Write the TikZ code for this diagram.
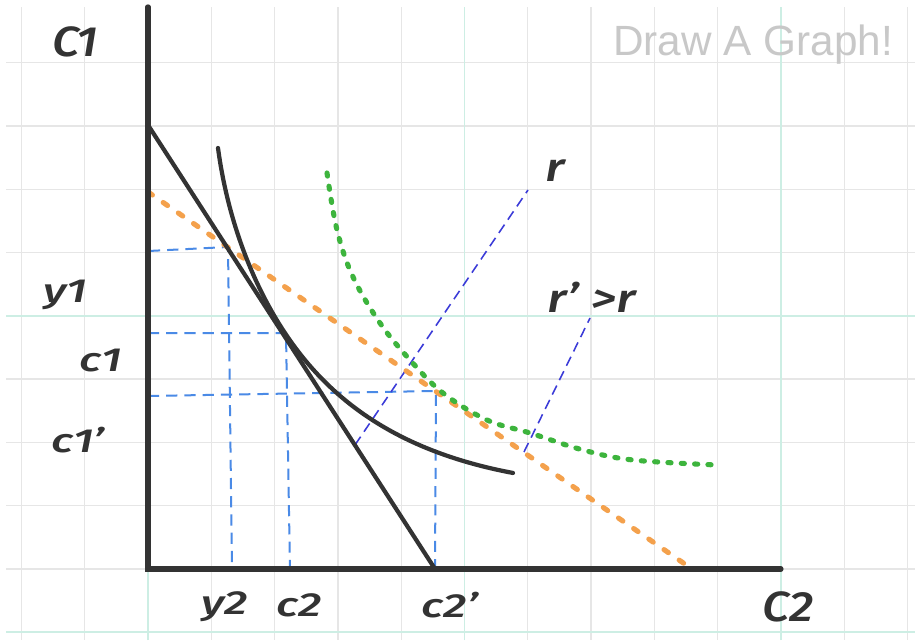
\documentclass[tikz,border=0pt]{standalone}
\usepackage{fontspec}
\setmainfont{Fira Sans}
\newfontfamily\handfont{Fira Sans}[UprightFont={* Medium}, ItalicFont={* Medium Italic}]
\newfontfamily\logofont{Liberation Sans}
\definecolor{inkgray}{HTML}{333333}
\definecolor{gridgray}{HTML}{E6E6E6}
\definecolor{gridteal}{HTML}{CDEEE4}
\definecolor{rateorange}{HTML}{F4A14C}
\definecolor{indgreen}{HTML}{3DB43D}
\definecolor{rateblue}{HTML}{3B3BD8}
\definecolor{guideblue}{HTML}{4A8AE6}
\definecolor{logogray}{HTML}{C8C8C8}

\begin{document}
\begin{tikzpicture}[
  lbl/.style={font=\handfont\fontsize{15}{15}\selectfont\itshape, text=inkgray, inner sep=0pt, xscale=1.4, transform shape},
  biglbl/.style={lbl, font=\handfont\fontsize{19}{19}\selectfont\itshape, xscale=1.15/1.4},
  ratelbl/.style={lbl, font=\handfont\fontsize{18}{18}\selectfont\itshape, xscale=1.25/1.4},
  axisline/.style={inkgray, line width=2.3pt, line cap=round},
  budgetline/.style={inkgray, line width=1.9pt, line cap=round},
  orangeline/.style={rateorange, line width=2.3pt, line cap=round, dash pattern=on 2.4pt off 5.9pt},
  greenline/.style={indgreen, line width=2.3pt, line cap=round, dash pattern=on 1.4pt off 4.6pt},
  rline/.style={rateblue, line width=0.7pt, dash pattern=on 4.5pt off 2.7pt},
  guide/.style={guideblue, line width=0.9pt, dash pattern=on 5pt off 3.2pt}
]

  % page and background
  \useasboundingbox[fill=white] (-2.338,-1.122) rectangle (12.117,8.989);

  % grid paper
  \foreach \x in {-2,...,12}{
    \draw[gridgray, line width=0.6pt] (\x,-1.122) -- (\x,8.88);
  }
  \foreach \y in {-1,...,8}{
    \draw[gridgray, line width=0.6pt] (-2.24,\y) -- (12.117,\y);
  }
  \foreach \x in {0,5,10}{
    \draw[gridteal, line width=0.8pt] (\x,-1.122) -- (\x,8.88);
  }
  \foreach \y in {-1,4}{
    \draw[gridteal, line width=0.8pt] (-2.24,\y) -- (12.117,\y);
  }

  % watermark
  \node[font=\logofont\fontsize{19}{19}\selectfont, text=logogray, inner sep=0pt] (logo) at (9.56,8.29) {Draw A Graph!};

  % axes
  \coordinate (O) at (0,0);
  \coordinate (ytop) at (0,8.88);
  \coordinate (xend) at (10,0);

  % guide lines to the axes
  \coordinate (ga) at (0.016,5.024);
  \coordinate (gb) at (1.264,5.087);
  \coordinate (gc) at (1.327,0);
  \draw[guide] (ga) -- (gb) -- (gc);
  \coordinate (ha) at (0,3.728);
  \coordinate (hb) at (2.18,3.728);
  \coordinate (hc) at (2.243,0);
  \draw[guide] (ha) -- (hb) -- (hc);
  \coordinate (ka) at (0,2.733);
  \coordinate (kb) at (4.55,2.812);
  \coordinate (kc) at (4.534,0);
  \draw[guide] (ka) -- (kb) -- (kc);

  % interest rate lines
  \coordinate (ra) at (3.27,1.959);
  \coordinate (rb) at (6.003,5.987);
  \draw[rline] (ra) -- (rb);
  \coordinate (sa) at (5.94,1.848);
  \coordinate (sb) at (6.983,3.965);
  \draw[rline] (sa) -- (sb);

  % new budget line
  \coordinate (oa) at (0,5.956);
  \coordinate (ob) at (8.594,0);
  \draw[orangeline] (oa) -- (ob);

  % higher indifference curve
  \draw[greenline] plot[smooth, tension=0.6] coordinates {(2.828,6.256) (2.986,5.355) (3.239,4.613) (3.665,3.886) (4.139,3.302) (4.66,2.78) (5.355,2.354) (6.035,2.148) (6.872,1.88) (7.662,1.722) (8.989,1.643)};

  % old budget line and indifference curve
  \coordinate (ba) at (0,7.014);
  \coordinate (bb) at (4.534,0);
  \draw[budgetline] (ba) -- (bb);
  \coordinate (ua) at (1.106,6.651);
  \coordinate (ub) at (2.164,3.728);
  \coordinate (uc) at (5.766,1.517);
  \draw[budgetline] (ua) .. controls (1.26,5.5) and (1.664,4.481) .. (ub)
    .. controls (2.9,2.62) and (4.0,1.85) .. (uc);

  \draw[axisline] (ytop) -- (O) -- (xend);

  % labels
  \node[biglbl] (Cone) at (-1.153,8.325) {C1};
  \node[lbl] (yone) at (-1.311,4.33) {y1};
  \node[lbl] (cone) at (-0.742,3.30) {c1};
  \node[lbl] (conep) at (-1.106,2.04) {c1’};
  \node[lbl] (ytwo) at (1.216,-0.6) {y2};
  \node[lbl] (ctwo) at (2.385,-0.57) {c2};
  \node[lbl] (ctwop) at (4.77,-0.57) {c2’};
  \node[biglbl] (Ctwo) at (10.11,-0.6) {C2};
  \node[ratelbl] (rlbl) at (6.43,6.30) {r};
  \node[ratelbl] (rplbl) at (7.01,4.30) {r’ >r};

\end{tikzpicture}
\end{document}
